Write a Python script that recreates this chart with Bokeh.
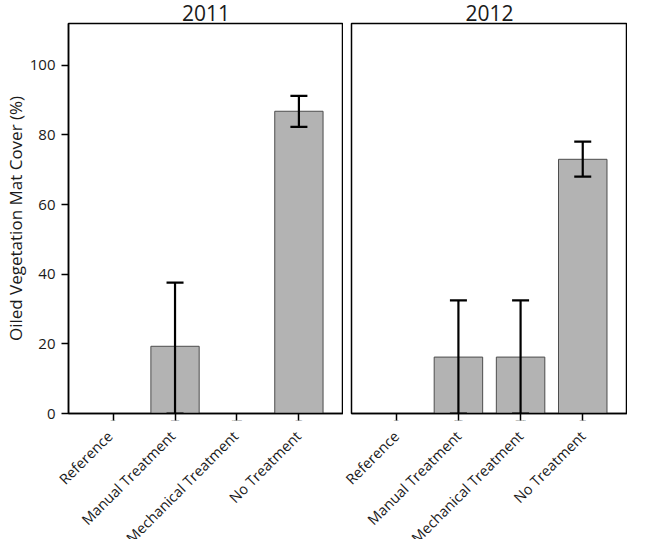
import math
from bokeh.plotting import figure
from bokeh.layouts import row, column
from bokeh.models import (ColumnDataSource, Whisker, TeeHead, FactorRange, Range1d,
                          LabelSet)
from bokeh.core.properties import value
from bokeh.embed import file_html
from bokeh.resources import INLINE

categories = ["Reference", "Manual Treatment", "Mechanical Treatment", "No Treatment"]
years = ["2011", "2012"]

mean_2011 = [0, 19.3, 0, 86.8]
upper_2011 = [None, 37.6, None, 91.2]
lower_2011 = [None, 0.0, None, 82.3]

mean_2012 = [0, 16.2, 16.2, 73.0]
upper_2012 = [None, 32.5, 32.5, 78.1]
lower_2012 = [None, 0.0, 0.0, 68.0]

y_ticks = [0, 20, 40, 60, 80, 100]
y_max = 112

FONT = "Open Sans"
TXT = "#1a1a1a"

# layout geometry (pixels)
PAD = 0.11                 # factor range padding (fraction of factor count)
W1, W2 = 343, 284          # figure widths, left and right panel
MBL1, MBL2 = 64, 8         # left borders of the two frames
MAIN_H, LAB_H = 424, 115
LAB_LEFT1 = 2              # left border of the first label strip
SHIFT = 10                 # label strip boundary moved left by this much


def make_panel(title, means, uppers, lowers, first, width, mbl):
    p = figure(x_range=FactorRange(*categories, range_padding=PAD),
               y_range=Range1d(0, y_max), width=width, height=MAIN_H,
               output_backend="svg", toolbar_location=None, title=title,
               min_border_left=mbl, min_border_right=0, min_border_top=21,
               min_border_bottom=10)
    p.title.align = "center"
    p.title.text_font = FONT
    p.title.text_font_size = "21px"
    p.title.text_font_style = "normal"
    p.title.text_color = TXT
    p.title.standoff = 5
    p.title.offset = 0

    src = ColumnDataSource(dict(cat=categories, val=means))
    p.vbar(x="cat", top="val", width=0.78, source=src,
           fill_color="#b3b3b3", line_color="#4d4d4d", line_width=1)

    ecat = [c for c, u in zip(categories, uppers) if u is not None]
    eup = [u for u in uppers if u is not None]
    elo = [l for l in lowers if l is not None]
    esrc = ColumnDataSource(dict(cat=ecat, up=eup, lo=elo))
    w = Whisker(base="cat", upper="up", lower="lo", source=esrc, level="overlay",
                line_color="black", line_width=2.2,
                upper_head=TeeHead(size=17, line_width=2.2, line_color="black"),
                lower_head=TeeHead(size=17, line_width=2.2, line_color="black"))
    p.add_layout(w)

    p.xgrid.visible = False
    p.ygrid.visible = False
    p.outline_line_color = "black"
    p.outline_line_width = 1.5

    p.xaxis.axis_line_color = "black"
    p.xaxis.axis_line_width = 1.5
    p.xaxis.major_tick_line_color = "black"
    p.xaxis.major_tick_line_width = 1.5
    p.xaxis.major_tick_out = 7
    p.xaxis.major_tick_in = 0
    p.xaxis.major_label_overrides = {c: "" for c in categories}
    p.xaxis.major_label_text_font_size = "1px"
    p.xaxis.major_label_standoff = 0

    if first:
        p.yaxis.ticker = y_ticks
        p.yaxis.axis_line_color = "black"
        p.yaxis.axis_line_width = 1.5
        p.yaxis.major_tick_line_color = "black"
        p.yaxis.major_tick_line_width = 1.5
        p.yaxis.major_tick_out = 7
        p.yaxis.major_tick_in = 0
        p.yaxis.minor_tick_line_color = None
        p.yaxis.major_label_text_font = FONT
        p.yaxis.major_label_text_font_size = "15px"
        p.yaxis.major_label_text_color = TXT
        p.yaxis.major_label_standoff = 6
        p.yaxis.axis_label = "Oiled Vegetation Mat Cover (%)"
        p.yaxis.axis_label_text_font = FONT
        p.yaxis.axis_label_text_font_size = "17px"
        p.yaxis.axis_label_text_font_style = "normal"
        p.yaxis.axis_label_text_color = TXT
        p.yaxis.axis_label_standoff = 0
    else:
        p.yaxis.visible = False

    # label strip: same synthetic factor coordinates as the FactorRange
    # (factor i centred at i + 0.5, range padded by PAD * n / 2 on each side)
    n = len(categories)
    pad_units = PAD * n / 2
    frame_w = width - mbl
    px_per_unit = frame_w / (n + 2 * pad_units)
    if first:
        lab_width = width - SHIFT
        lab_left = LAB_LEFT1
        extra_left = (mbl - lab_left) / px_per_unit
        extra_right = -SHIFT / px_per_unit
    else:
        lab_width = width + SHIFT
        lab_left = 0
        extra_left = (mbl + SHIFT) / px_per_unit
        extra_right = 0.0
    l = figure(width=lab_width, height=LAB_H,
               x_range=Range1d(-pad_units - extra_left, n + pad_units + extra_right),
               y_range=Range1d(0, 1), output_backend="svg", toolbar_location=None,
               x_axis_location=None, y_axis_location=None,
               min_border_left=lab_left, min_border_right=0, min_border_top=0,
               min_border_bottom=0)
    l.outline_line_color = None
    l.xgrid.visible = False
    l.ygrid.visible = False
    lsrc = ColumnDataSource(dict(x=[i + 0.5 for i in range(n)], y=[1] * n,
                                 text=categories))
    l.add_layout(LabelSet(x="x", y="y", text="text", source=lsrc,
                          x_offset=0, y_offset=-9, angle=math.pi / 4,
                          text_align="right", text_baseline="middle",
                          text_font=value(FONT), text_font_size="14.5px",
                          text_color=TXT))
    return p, l


p1, l1 = make_panel(years[0], mean_2011, upper_2011, lower_2011, True, W1, MBL1)
p2, l2 = make_panel(years[1], mean_2012, upper_2012, lower_2012, False, W2, MBL2)
p2.y_range = p1.y_range

layout = column(row(p1, p2), row(l1, l2))
open("out.html", "w").write(file_html(layout, INLINE))
